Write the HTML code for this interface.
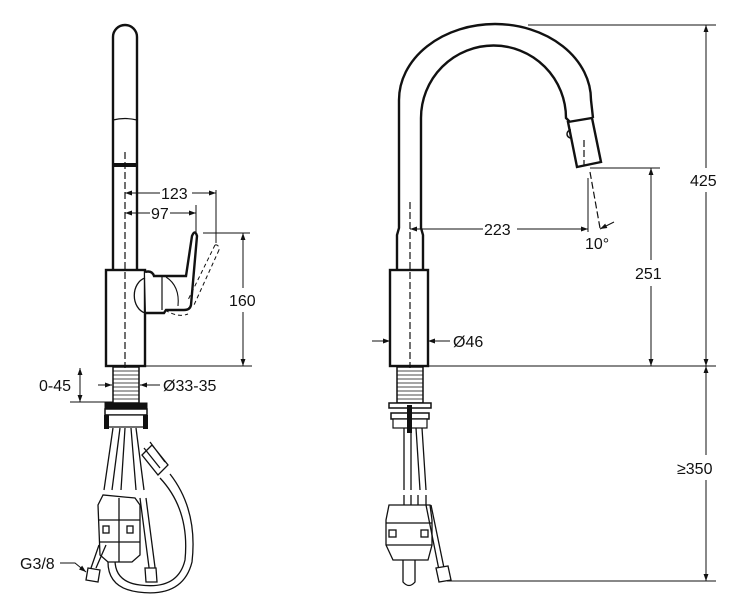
<!DOCTYPE html>
<html><head><meta charset="utf-8"><style>
html,body{margin:0;padding:0;background:#fff}
svg{display:block}
text{font-family:"Liberation Sans",sans-serif;font-size:16px;fill:#111}
</style></head><body>
<svg width="735" height="609" viewBox="0 0 735 609" xmlns="http://www.w3.org/2000/svg">
<defs>
<marker id="a" viewBox="0 0 10 10" refX="10" refY="5" markerWidth="9" markerHeight="7" orient="auto-start-reverse" markerUnits="userSpaceOnUse"><path d="M0,1.5 L10,5 L0,8.5 z" fill="#111"/></marker>
</defs>
<g fill="none" stroke="#111" stroke-width="2.4">
<path d="M113,270 V37 A12,12 0 0 1 137,37 V270" fill="#fff"/>
<path d="M113,120 Q125,117 137,120" stroke-width="1.2"/>
<path d="M113,165 H137" stroke-width="4"/>
<rect x="106" y="270" width="39" height="96" fill="#fff"/>
<path d="M145,272 Q152,270 154,276 H186 L192,236 Q195,229 197,236 L191,305 Q190,310 184,310 H166 L164,313 H146" fill="#fff"/>
<path d="M145,278 A14,18 0 0 0 145,313" stroke-width="1.3"/>
<path d="M162,277 V310" stroke-width="1.2"/>
<path d="M166,277 Q180,286 178,306" stroke-width="1.1"/>
<g stroke-width="1" stroke-dasharray="4,3">
<path d="M215,245 L188,300 M219,250 L194,305 M215,245 Q219,244 219,250"/>
<path d="M165,310 Q178,318 188,314"/>
</g>
<rect x="113" y="367" width="26" height="36" fill="#fff" stroke-width="1.5"/>
<g stroke-width="0.8"><path d="M113,371H139M113,375H139M113,379H139M113,383H139M113,387H139M113,391H139M113,395H139M113,399H139"/></g>
<rect x="105" y="403" width="42" height="6" fill="#111" stroke-width="1"/>
<rect x="105" y="409" width="42" height="6" fill="#fff" stroke-width="1.5"/>
<rect x="106" y="415" width="40" height="12" fill="#fff" stroke-width="1.2"/>
<rect x="104" y="415" width="5" height="14" fill="#111" stroke="none"/>
<rect x="143" y="415" width="5" height="14" fill="#111" stroke="none"/>
<g stroke-width="1.3">
<path d="M113,428 L104,490 M120,428 L112,490 M125,428 L121,490 M131,428 L136,490 M136,428 L144,490"/>
<path d="M144,448 L160,468 M150,442 L165,462 M142,455 L152,445 L168,465 L158,475 Z" fill="#fff"/>
<path d="M160,478 Q190,510 185,560 Q178,590 140,585 Q115,582 115,560"/>
<path d="M170,474 Q198,510 192,562 Q183,598 138,592 Q107,588 108,560"/>
<path d="M103,495 L98,505 L100,555 L108,562 H132 L140,555 L140,505 L135,498 Z" fill="#fff"/>
<path d="M119,498 V562 M99,520 H140 M99,542 H140"/>
<rect x="103" y="526" width="6" height="7"/><rect x="127" y="526" width="6" height="7"/>
<path d="M140,498 L150,575 M146,498 L156,575"/>
<path d="M145,568 L156,568 L157,582 L146,582 Z" fill="#fff"/>
<path d="M106,545 L96,568 M99,545 L91,568"/>
<path d="M88,568 L100,570 L98,582 L86,580 Z" fill="#fff"/>
</g>
<path d="M397,270 V235 L399,228 V100 A96,76 0 0 1 591,100 L593,118" />
<path d="M423,270 V235 L421,228 V118 A72,72 0 0 1 566,118 L570,122"/>
<path d="M568,122 L592,118 L601,162 L577,167 Z" fill="#fff"/>
<path d="M571,130 A4,4 0 0 0 571,138" stroke-width="1.5"/>
<rect x="390" y="270" width="38" height="96" fill="#fff"/>
<rect x="397" y="367" width="26" height="36" fill="#fff" stroke-width="1.5"/>
<g stroke-width="0.8"><path d="M397,371H423M397,375H423M397,379H423M397,383H423M397,387H423M397,391H423M397,395H423M397,399H423"/></g>
<rect x="389" y="403" width="42" height="5" fill="#fff" stroke-width="1.5"/>
<rect x="391" y="413" width="38" height="6" fill="#fff" stroke-width="1.5"/>
<rect x="393" y="419" width="34" height="9" fill="#fff" stroke-width="1.2"/>
<rect x="407" y="405" width="5" height="28" fill="#111" stroke="none"/>
<g stroke-width="1.3">
<path d="M404,428 V490 M411,428 V490 M416,428 L420,490 M422,428 L426,490"/>
<path d="M404,495 V505 M411,495 V505 M418,495 V505 M426,495 V505"/>
<path d="M389,505 L386,520 V545 L393,560 H428 L432,545 V520 L430,505 Z" fill="#fff"/>
<path d="M386,523 H432 M386,545 H432"/>
<rect x="389" y="530" width="7" height="7"/><rect x="421" y="530" width="7" height="7"/>
<path d="M403,560 V582 Q409,589 415,582 V560"/>
<path d="M426,505 L439,570 M431,505 L444,568"/>
<path d="M436,568 L448,566 L451,580 L439,582 Z" fill="#fff"/>
</g>
</g>
<g stroke="#111" stroke-width="1.2" stroke-dasharray="7,3" fill="none">
<path d="M125,152 V368"/>
<path d="M410,202 V368"/>
<path d="M584,140 V165"/>
<path d="M590,172 L600,228"/>
</g>
<g stroke="#111" stroke-width="1" fill="none">
<path d="M125,193 H160 M192,193 H216" />
<path d="M125,193 H130" marker-start="url(#a)"/>
<path d="M200,193 H216" marker-end="url(#a)"/>
<path d="M216,190 V243"/>
<path d="M125,213 H150" marker-start="url(#a)"/>
<path d="M170,213 H196" marker-end="url(#a)"/>
<path d="M196,205 V232"/>
<path d="M203,233 H250 M145,366 H252"/>
<path d="M243,288 V233" marker-end="url(#a)"/>
<path d="M243,312 V366" marker-end="url(#a)"/>
<path d="M70,402 H113"/>
<path d="M80,385 V368" marker-end="url(#a)"/>
<path d="M80,385 V402" marker-end="url(#a)"/>
<path d="M98,385 H112" marker-end="url(#a)"/>
<path d="M160,385 H140" marker-end="url(#a)"/>
<path d="M528,25 H716 M590,168 H660 M428,366 H716 M447,581 H716"/>
<path d="M410,229 H483" marker-start="url(#a)"/>
<path d="M517,229 H588" marker-end="url(#a)"/>
<path d="M588,178 V232"/>
<path d="M614,222 L600,229" marker-end="url(#a)"/>
<path d="M651,260 V168" marker-end="url(#a)"/>
<path d="M651,286 V366" marker-end="url(#a)"/>
<path d="M706,168 V25" marker-end="url(#a)"/>
<path d="M706,192 V366" marker-end="url(#a)"/>
<path d="M706,455 V366" marker-end="url(#a)"/>
<path d="M706,480 V581" marker-end="url(#a)"/>
<path d="M372,341 H390" marker-end="url(#a)"/>
<path d="M450,341 H428" marker-end="url(#a)"/>
<path d="M60,563 H75 L86,572" marker-end="url(#a)"/>
</g>
<text x="161" y="199">123</text>
<text x="151" y="219">97</text>
<text x="229" y="306">160</text>
<text x="39" y="391">0-45</text>
<text x="163" y="391">Ø33-35</text>
<text x="20" y="569">G3/8</text>
<text x="484" y="235">223</text>
<text x="585" y="249">10°</text>
<text x="635" y="279">251</text>
<text x="690" y="186">425</text>
<text x="677" y="474">≥350</text>
<text x="453" y="347">Ø46</text>
</svg>
</body></html>
